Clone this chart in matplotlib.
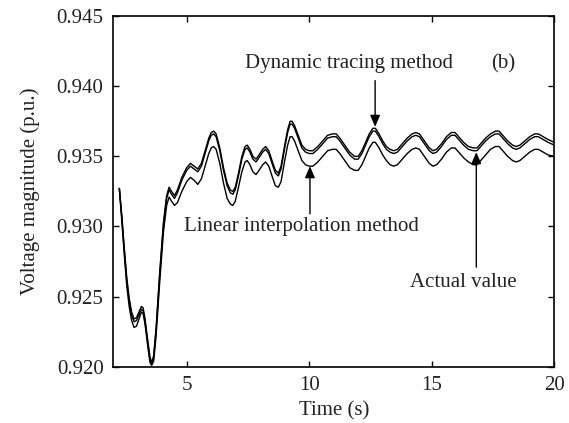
import matplotlib
matplotlib.use("Agg")
import matplotlib.pyplot as plt

plt.rcParams["font.family"] = ["Liberation Serif", "DejaVu Serif"]

# time (s)
time_s = [2.25, 2.35, 2.45, 2.55, 2.65, 2.75, 2.85, 2.95, 3.05, 3.15,
          3.22, 3.3, 3.4, 3.5, 3.57, 3.65, 3.75, 3.9, 4.05, 4.18,
          4.28, 4.38, 4.5, 4.62, 4.8, 5.0, 5.15, 5.3, 5.45, 5.6,
          5.75, 5.9, 6.0, 6.1, 6.2, 6.35, 6.5, 6.65, 6.78, 6.88,
          6.98, 7.1, 7.25, 7.38, 7.47, 7.58, 7.7, 7.83, 7.95, 8.1,
          8.22, 8.35, 8.5, 8.62, 8.74, 8.85, 9.0, 9.12, 9.22, 9.3,
          9.4, 9.55, 9.7, 9.85, 10.0, 10.15, 10.35, 10.55, 10.75, 10.95,
          11.1, 11.25, 11.45, 11.65, 11.85, 12.0, 12.15, 12.3, 12.45, 12.6,
          12.7, 12.85, 13.0, 13.15, 13.3, 13.45, 13.6, 13.8, 14.0, 14.2,
          14.35, 14.5, 14.7, 14.9, 15.05, 15.2, 15.4, 15.6, 15.8, 15.95,
          16.1, 16.3, 16.5, 16.7, 16.85, 17.0, 17.2, 17.4, 17.6, 17.75,
          17.9, 18.1, 18.3, 18.45, 18.6, 18.8, 19.0, 19.2, 19.35, 19.55,
          19.75, 20.0]

# dynamic tracing method
v_dynamic = [.9327, .9308, .9285, .9264, .9249, .9239, .9234, .9235, .9239, .9243,
             .9242, .9234, .9220, .9207, .9203, .9208, .9228, .9268, .9303, .9322,
             .9328, .9325, .9322, .9326, .9335, .9342, .9345, .9343, .9341, .9345,
             .9354, .9363, .9367, .9368, .9366, .9356, .9342, .9331, .9326, .9325,
             .9328, .9337, .9350, .9357, .9358, .9355, .9350, .9348, .9351, .9355,
             .9357, .9354, .9346, .9340, .9338, .9343, .9358, .9369, .9375, .9375,
             .9372, .9365, .9358, .9355, .9354, .9354, .9357, .9361, .9365, .9366,
             .9366, .9363, .9358, .9353, .9350, .9350, .9354, .9360, .9366, .9370,
             .9370, .9366, .9361, .9357, .9355, .9354, .9355, .9359, .9363, .9366,
             .9367, .9366, .9361, .9356, .9354, .9355, .9359, .9364, .9367, .9367,
             .9364, .9360, .9357, .9356, .9356, .9359, .9363, .9366, .9368, .9368,
             .9365, .9361, .9358, .9357, .9358, .9361, .9364, .9366, .9366, .9364,
             .9362, .9360]

# actual value
v_actual = [.9327, .9306, .9283, .9262, .9247, .9237, .9232, .9233, .9237, .9241,
            .9240, .9232, .9218, .9205, .9202, .9206, .9226, .9266, .9301, .9320,
            .9326, .9323, .9320, .9324, .9333, .9340, .9343, .9341, .9339, .9343,
            .9352, .9361, .9365, .9366, .9364, .9354, .9340, .9329, .9324, .9323,
            .9326, .9335, .9348, .9355, .9356, .9353, .9348, .9346, .9349, .9353,
            .9355, .9352, .9344, .9338, .9336, .9341, .9356, .9367, .9373, .9373,
            .9370, .9363, .9356, .9353, .9352, .9352, .9355, .9359, .9363, .9364,
            .9364, .9361, .9356, .9351, .9348, .9348, .9352, .9358, .9364, .9368,
            .9368, .9364, .9359, .9355, .9353, .9352, .9353, .9357, .9361, .9364,
            .9365, .9364, .9359, .9354, .9352, .9353, .9357, .9362, .9365, .9365,
            .9362, .9358, .9355, .9354, .9354, .9357, .9361, .9364, .9366, .9366,
            .9363, .9359, .9356, .9355, .9356, .9359, .9362, .9364, .9364, .9362,
            .9360, .9358]

# linear interpolation method
v_linear = [.9327, .9304, .9280, .9258, .9243, .9233, .9228, .9229, .9234, .9239,
            .9238, .9230, .9216, .9203, .9201, .9204, .9222, .9261, .9296, .9315,
            .9321, .9318, .9315, .9317, .9325, .9332, .9335, .9333, .9330, .9334,
            .9343, .9352, .9356, .9357, .9355, .9345, .9331, .9320, .9316, .9315,
            .9318, .9327, .9339, .9346, .9347, .9344, .9339, .9337, .9340, .9344,
            .9346, .9343, .9335, .9329, .9328, .9332, .9347, .9358, .9364, .9364,
            .9361, .9354, .9347, .9344, .9343, .9343, .9346, .9350, .9354, .9355,
            .9355, .9352, .9347, .9342, .9340, .9340, .9344, .9350, .9356, .9360,
            .9360, .9356, .9351, .9347, .9344, .9343, .9344, .9348, .9352, .9355,
            .9356, .9355, .9350, .9345, .9343, .9344, .9348, .9353, .9356, .9356,
            .9353, .9349, .9346, .9344, .9344, .9347, .9351, .9355, .9357, .9357,
            .9354, .9350, .9347, .9346, .9347, .9350, .9353, .9355, .9355, .9353,
            .9351, .9350]

fig = plt.figure(figsize=(5.69, 4.23), dpi=100)
ax = fig.add_axes([0.199, 0.133, 0.775, 0.829])

ax.plot(time_s, v_dynamic, color="black", lw=1.0)
ax.plot(time_s, v_actual, color="black", lw=1.0)
ax.plot(time_s, v_linear, color="black", lw=1.0)

ax.set_xlim(2, 20)
ax.set_ylim(0.920, 0.945)
ax.set_xticks([5, 10, 15, 20])
ax.set_yticks([0.920, 0.925, 0.930, 0.935, 0.940, 0.945])
ax.set_yticklabels(["0.920", "0.925", "0.930", "0.935", "0.940", "0.945"])
ax.tick_params(direction="in", top=True, right=True, length=4, width=1,
               labelsize=15, pad=7, colors="black", labelcolor="#222222")
for s in ax.spines.values():
    s.set_linewidth(1.2)

ax.set_xlabel("Time (s)", fontsize=15, color="#222222", labelpad=4)
ax.set_ylabel("Voltage magnitude (p.u.)", fontsize=15, color="#222222", labelpad=12)

arrow = dict(arrowstyle="-|>,head_length=0.7,head_width=0.3", color="black",
             lw=1.0, shrinkA=0, shrinkB=0)

ax.annotate("", xy=(12.69, 0.9371), xytext=(12.69, 0.9404), arrowprops=arrow)
ax.text(11.63, 0.9416, "Dynamic tracing method", fontsize=15, ha="center",
        va="center", color="#222222")

ax.annotate("", xy=(10.03, 0.9343), xytext=(10.03, 0.9309), arrowprops=arrow)
ax.text(9.67, 0.9300, "Linear interpolation method", fontsize=15, ha="center",
        va="center", color="#222222")

ax.annotate("", xy=(16.82, 0.9353), xytext=(16.82, 0.9271), arrowprops=arrow)
ax.text(16.29, 0.9260, "Actual value", fontsize=15, ha="center",
        va="center", color="#222222")

ax.text(17.93, 0.9416, "(b)", fontsize=15, ha="center", va="center", color="#222222")

fig.savefig("out.png", dpi=100)
